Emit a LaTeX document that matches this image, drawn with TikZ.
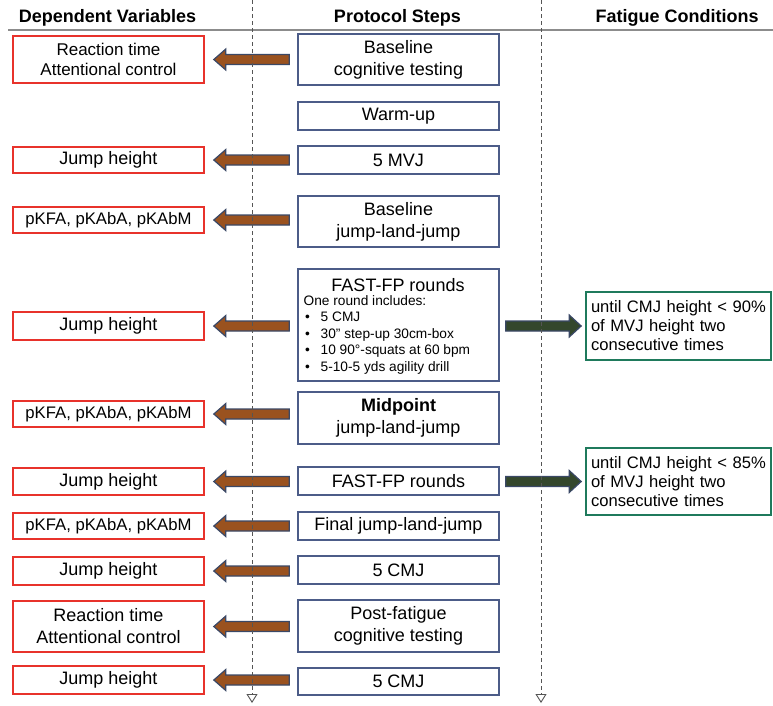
\documentclass[tikz,border=0pt]{standalone}
\usepackage{fontspec}
\setmainfont{Liberation Sans}
\usetikzlibrary{calc,arrows.meta}
\definecolor{redb}{HTML}{E8322B}
\definecolor{blueb}{HTML}{4C5C88}
\definecolor{greenb}{HTML}{1F7A5C}
\definecolor{arrowline}{HTML}{3A4866}
\definecolor{brownd}{HTML}{9A521F}
\definecolor{orangec}{HTML}{F39036}
\definecolor{greend}{HTML}{34472C}
\definecolor{greenc}{HTML}{687F4E}
\definecolor{hline}{HTML}{8C8C8C}
\definecolor{dline}{HTML}{555555}
\newcommand\fsz[2]{\fontsize{#1}{#2}\selectfont}
\newcommand\dvarrow[2]{%
  \shadedraw[oarrow] ($(#1.east)+(9,0)$) -- ($(#1.east)+(21,-10.5)$) -- ($(#1.east)+(21,-5)$)
    -- ($(#2.west|-#1.east)+(-8,-5)$) -- ($(#2.west|-#1.east)+(-8,5)$)
    -- ($(#1.east)+(21,5)$) -- ($(#1.east)+(21,10.5)$) -- cycle;}
\newcommand\fcarrow[2]{%
  \shadedraw[garrow] ($(#2.west)+(-4,0)$) -- ($(#2.west)+(-16,-11)$) -- ($(#2.west)+(-16,-5)$)
    -- ($(#1.east|-#2.west)+(6,-5)$) -- ($(#1.east|-#2.west)+(6,5)$)
    -- ($(#2.west)+(-16,5)$) -- ($(#2.west)+(-16,11)$) -- cycle;}
\begin{document}
\begin{tikzpicture}[x=1pt,y=-1pt,
  dvbox/.style={draw=redb,line width=1.6pt,inner sep=0pt,align=center,minimum width=191pt,font=\fsz{18}{21}},
  psbox/.style={draw=blueb,line width=1.6pt,inner sep=0pt,align=center,minimum width=201pt,font=\fsz{18}{22}},
  fcbox/.style={draw=greenb,line width=1.6pt,inner ysep=0pt,inner xsep=5pt,align=left,text width=175pt,font=\fsz{16.6}{19}},
  header/.style={inner sep=0pt,font=\bfseries\fsz{18}{20}},
  oarrow/.style={draw=arrowline,line width=1.2pt,top color=brownd,middle color=orangec,bottom color=brownd},
  garrow/.style={draw=arrowline,line width=1.2pt,top color=greend,middle color=greenc,bottom color=greend},
  dashline/.style={draw=dline,line width=0.9pt,dash pattern=on 4pt off 3pt,-{Triangle[open,length=9pt,width=11pt,fill=white]}},
  rule/.style={draw=hline,line width=1.5pt}]
\useasboundingbox (0,0) rectangle (773,705);
% headers
\node[header] (h1) at (107.5,18) {Dependent Variables};
\node[header] (h2) at (397.5,18) {Protocol Steps};
\node[header] (h3) at (677,18) {Fatigue Conditions};
\coordinate (rl) at (8,30);
\coordinate (rr) at (773,30);
\draw[rule] (rl) -- (rr);
% left column
\node[dvbox,minimum height=47pt,font=\fsz{17}{20}] (l1) at (108.5,59.5) {Reaction time\\Attentional control};
\node[dvbox,minimum height=26pt] (l2) at (108.5,160) {Jump height};
\node[dvbox,minimum height=26pt,font=\fsz{16.7}{20}] (l3) at (108.5,220) {pKFA, pKAbA, pKAbM};
\node[dvbox,minimum height=28pt] (l4) at (108.5,326) {Jump height};
\node[dvbox,minimum height=26pt,font=\fsz{16.7}{20}] (l5) at (108.5,414) {pKFA, pKAbA, pKAbM};
\node[dvbox,minimum height=27pt] (l6) at (108.5,481.5) {Jump height};
\node[dvbox,minimum height=26pt,font=\fsz{16.7}{20}] (l7) at (108.5,526) {pKFA, pKAbA, pKAbM};
\node[dvbox,minimum height=28pt] (l8) at (108.5,571) {Jump height};
\node[dvbox,minimum height=51pt,font=\fsz{18}{22}] (l9) at (108.5,626.5) {Reaction time\\Attentional control};
\node[dvbox,minimum height=28pt] (l10) at (108.5,680) {Jump height};
% middle column
\node[psbox,minimum height=51pt] (m1) at (398.5,59.5) {Baseline\\cognitive testing};
\node[psbox,minimum height=28pt] (m2) at (398.5,116) {Warm-up};
\node[psbox,minimum height=28pt] (m3) at (398.5,160) {5 MVJ};
\node[psbox,minimum height=51pt] (m4) at (398.5,221.5) {Baseline\\jump-land-jump};
\node[psbox,minimum height=112pt] (m5) at (398.5,325) {};
\node[inner sep=0pt,font=\fsz{18}{20}] (m5t) at (398,285) {FAST-FP rounds};
\node[inner sep=0pt,anchor=north west,align=left,font=\fsz{13.7}{16.5}] (m5l) at (303.5,295)
 {One round includes:\\
  \hspace*{1.5pt}\makebox[15.5pt][l]{\textbullet}5 CMJ\\
  \hspace*{1.5pt}\makebox[15.5pt][l]{\textbullet}30” step-up 30cm-box\\
  \hspace*{1.5pt}\makebox[15.5pt][l]{\textbullet}10 90°-squats at 60 bpm\\
  \hspace*{1.5pt}\makebox[15.5pt][l]{\textbullet}5-10-5 yds agility drill};
\node[psbox,minimum height=52pt] (m6) at (398.5,418) {\textbf{Midpoint}\\jump-land-jump};
\node[psbox,minimum height=28pt] (m7) at (398.5,481) {FAST-FP rounds};
\node[psbox,minimum height=28pt] (m8) at (398.5,526) {Final jump-land-jump};
\node[psbox,minimum height=28pt] (m9) at (398.5,570) {5 CMJ};
\node[psbox,minimum height=52pt] (m10) at (398.5,626) {Post-fatigue\\cognitive testing};
\node[psbox,minimum height=27pt] (m11) at (398.5,681.5) {5 CMJ};
% right column
\node[fcbox,minimum height=68pt] (r1) at (678.5,326) {until CMJ height < 90\%\\of MVJ height two\\consecutive times};
\node[fcbox,minimum height=67pt] (r2) at (678.5,481.5) {until CMJ height < 85\%\\of MVJ height two\\consecutive times};
% arrows
\dvarrow{l1}{m1}
\dvarrow{l2}{m3}
\dvarrow{l3}{m4}
\dvarrow{l4}{m5}
\dvarrow{l5}{m6}
\dvarrow{l6}{m7}
\dvarrow{l7}{m8}
\dvarrow{l8}{m9}
\dvarrow{l9}{m10}
\dvarrow{l10}{m11}
\fcarrow{m5}{r1}
\fcarrow{m7}{r2}
% dashed guide lines
\coordinate (d1t) at (252,0);
\coordinate (d1b) at (252,703);
\coordinate (d2t) at (541,0);
\coordinate (d2b) at (541,703);
\draw[dashline] (d1t) -- (d1b);
\draw[dashline] (d2t) -- (d2b);
\end{tikzpicture}
\end{document}
